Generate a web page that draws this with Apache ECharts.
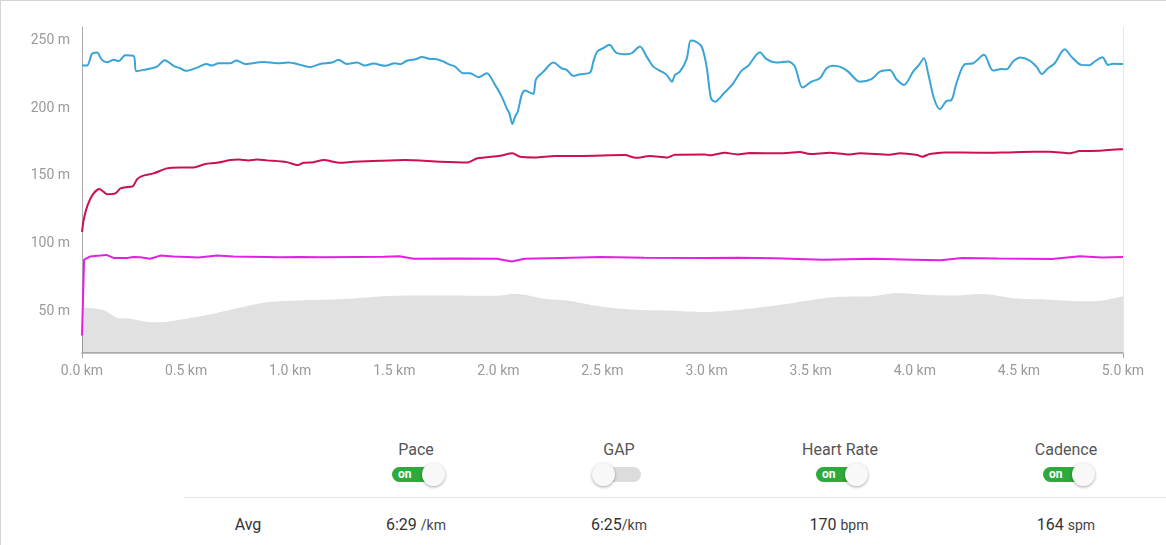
<!DOCTYPE html>
<html>
<head>
<meta charset="utf-8">
<script src="https://cdn.jsdelivr.net/npm/echarts@6/dist/echarts.min.js"></script>
<style>
  html, body { margin:0; padding:0; background:#fff; }
  body { width:1166px; height:545px; position:relative; overflow:hidden; font-family: Roboto, "Noto Sans", sans-serif; }
  #frame { position:absolute; left:0; top:0; width:1166px; height:545px; border-top:1px solid #d4d4d4; border-left:1px solid #d4d4d4; box-sizing:border-box; }
  #chart { position:absolute; left:0; top:0; width:1166px; height:400px; }
  .lbl { position:absolute; top:439px; width:160px; margin-left:-80px; text-align:center; font-size:16px; color:#555; line-height:22px; }
  .tg { position:absolute; top:467px; width:48px; height:15px; border-radius:8px; }
  .tg.on { background:#2fa83c; }
  .tg.off { background:#dcdcdc; }
  .tg .txt { position:absolute; left:6px; top:0; font-size:12px; font-weight:bold; color:#fff; line-height:15px; }
  .knob { position:absolute; top:-4px; width:23px; height:23px; border-radius:50%; background:#f8f8f8; box-shadow:0 1px 3px rgba(0,0,0,0.35); }
  .sep { position:absolute; left:184px; right:0; top:497px; height:1px; background:#e6e6e6; }
  .val { position:absolute; top:514px; width:160px; margin-left:-80px; text-align:center; font-size:16px; color:#333; line-height:22px; }
  .val small { font-size:14px; color:#444; }
</style>
</head>
<body>
<div id="frame"></div>
<div id="chart"></div>

<div class="lbl" style="left:416px">Pace</div>
<div class="lbl" style="left:619px">GAP</div>
<div class="lbl" style="left:840px">Heart Rate</div>
<div class="lbl" style="left:1066px">Cadence</div>

<div class="tg on" style="left:392px"><span class="txt">on</span><div class="knob" style="left:30px"></div></div>
<div class="tg off" style="left:593px"><div class="knob" style="left:-1px"></div></div>
<div class="tg on" style="left:816px"><span class="txt">on</span><div class="knob" style="left:29px"></div></div>
<div class="tg on" style="left:1043px"><span class="txt">on</span><div class="knob" style="left:29px"></div></div>

<div class="sep"></div>

<div class="val" style="left:248px">Avg</div>
<div class="val" style="left:416px">6:29 <small>/km</small></div>
<div class="val" style="left:619px">6:25<small>/km</small></div>
<div class="val" style="left:839px">170 <small>bpm</small></div>
<div class="val" style="left:1066px">164 <small>spm</small></div>

<script>
// ---- data (in displayed axis units) ----
const xTicks = [0, 0.5, 1.0, 1.5, 2.0, 2.5, 3.0, 3.5, 4.0, 4.5, 5.0];

const elevKm  = [0, 0.1, 0.166, 0.233, 0.332, 0.4, 0.5, 0.6, 0.73, 0.864, 1.0, 1.26, 1.5, 1.73, 1.99, 2.08, 2.23, 2.33, 2.49, 2.66, 2.82, 2.99, 3.16, 3.32, 3.49, 3.62, 3.79, 3.92, 4.05, 4.19, 4.32, 4.49, 4.65, 4.82, 4.9, 5.0];
const elevVal = [52.7, 51, 45.3, 44.3, 41.8, 42, 44.3, 47, 51.5, 56, 57.6, 58.9, 61.3, 61.5, 61.3, 62.8, 58.9, 57.8, 53.4, 51, 50.4, 49.3, 51, 53.9, 57.8, 60.4, 60.9, 63.3, 62.1, 61.5, 62.6, 59.2, 58.4, 57.2, 57.8, 60.9];

const paceKm  = [0, 0.024, 0.048, 0.072, 0.096, 0.12, 0.152, 0.176, 0.208, 0.248, 0.261, 0.296, 0.36, 0.397, 0.44, 0.472, 0.499, 0.552, 0.597, 0.624, 0.656, 0.712, 0.741, 0.784, 0.872, 0.936, 0.992, 1.048, 1.096, 1.144, 1.2, 1.232, 1.272, 1.32, 1.36, 1.4, 1.456, 1.504, 1.528, 1.56, 1.608, 1.632, 1.672, 1.704, 1.736, 1.76, 1.792, 1.832, 1.864, 1.904, 1.944, 1.984, 2.016, 2.04, 2.053, 2.067, 2.08, 2.093, 2.112, 2.128, 2.152, 2.168, 2.181, 2.216, 2.264, 2.304, 2.328, 2.36, 2.392, 2.44, 2.456, 2.475, 2.504, 2.533, 2.565, 2.616, 2.64, 2.68, 2.712, 2.744, 2.784, 2.808, 2.834, 2.848, 2.872, 2.904, 2.924, 2.944, 2.976, 3.0, 3.021, 3.04, 3.08, 3.128, 3.168, 3.2, 3.256, 3.288, 3.336, 3.392, 3.424, 3.461, 3.504, 3.544, 3.576, 3.608, 3.648, 3.68, 3.736, 3.792, 3.832, 3.88, 3.912, 3.948, 3.992, 4.02, 4.044, 4.064, 4.092, 4.12, 4.152, 4.176, 4.2, 4.24, 4.28, 4.332, 4.376, 4.416, 4.44, 4.472, 4.507, 4.552, 4.584, 4.611, 4.64, 4.672, 4.72, 4.752, 4.8, 4.84, 4.864, 4.901, 4.928, 4.952, 5.0];
const paceVal = [231.5, 231.5, 240.1, 241.1, 235.7, 234, 235.7, 234.8, 239.2, 238.7, 227.3, 228.3, 230.7, 235.5, 231.3, 229.5, 227.6, 230, 232.7, 231.5, 233.2, 233.2, 235.2, 232.7, 234.2, 233.2, 233.7, 232, 230.3, 232.7, 233.7, 235.7, 232.7, 233.7, 231.5, 233, 231.3, 233.2, 232.5, 235, 236.4, 237.9, 236.4, 236.2, 234.5, 232.5, 230.7, 225.8, 225.8, 222.9, 225.8, 217.2, 208.5, 199.9, 196.2, 188.3, 193.7, 197.4, 209.8, 213, 211.5, 210.5, 221.4, 227, 233.7, 229.5, 228.3, 223.9, 225.1, 226.3, 234.4, 241.9, 244.4, 246.8, 241.1, 239.9, 240.6, 245.6, 238.1, 230.7, 227, 224.6, 219.6, 224.6, 227, 236.2, 250, 249.5, 245.6, 230.7, 207.3, 204.8, 210.5, 218.4, 227.8, 231.3, 241.4, 236.2, 233.7, 234.5, 230.7, 215.2, 219.6, 222.1, 229.5, 231.3, 230.2, 227, 219.6, 221.4, 227, 228.3, 221.4, 217.2, 227, 232, 236.9, 225.8, 207.3, 199.2, 205.3, 206, 218.4, 232.5, 233.2, 239.4, 227.8, 228.9, 228.7, 234.5, 237.4, 235.2, 230.7, 225.3, 229.5, 233.2, 243.6, 238.1, 232, 231.8, 234.5, 237.7, 232, 232.9, 232.7];

const hrKm  = [0, 0.008, 0.027, 0.053, 0.083, 0.104, 0.12, 0.16, 0.184, 0.208, 0.245, 0.264, 0.288, 0.344, 0.408, 0.472, 0.536, 0.592, 0.648, 0.712, 0.752, 0.8, 0.84, 0.888, 0.984, 1.037, 1.064, 1.112, 1.16, 1.24, 1.304, 1.432, 1.552, 1.72, 1.852, 1.9, 2.008, 2.068, 2.104, 2.176, 2.272, 2.392, 2.608, 2.66, 2.728, 2.812, 2.848, 2.992, 3.016, 3.088, 3.148, 3.208, 3.352, 3.448, 3.496, 3.592, 3.676, 3.736, 3.88, 3.928, 4.012, 4.036, 4.072, 4.144, 4.312, 4.432, 4.576, 4.648, 4.744, 4.792, 4.888, 4.984, 5.0];
const hrVal = [108.5, 117.3, 128.3, 136.4, 140.2, 138.1, 136.4, 137, 140.6, 141.5, 142.4, 147.3, 149.8, 151.8, 155.5, 156.2, 156.2, 158.7, 159.6, 161.6, 162.1, 161.4, 162.1, 161.4, 160.1, 157.9, 159.6, 160.1, 161.6, 159.6, 160.3, 161.1, 161.6, 160.4, 159.9, 162.9, 164.8, 166.6, 164.1, 163.6, 164.6, 164.6, 165.3, 163.3, 164.6, 163.6, 165.6, 165.8, 165.1, 167, 165.8, 166.8, 166.6, 167.6, 166.1, 167, 165.8, 166.6, 165.6, 166.6, 165.3, 164.1, 166.1, 167.3, 167, 167.3, 167.8, 167.8, 166.6, 168.3, 168.5, 169.6, 169.6];

const cadKm  = [0, 0.01, 0.04, 0.088, 0.117, 0.152, 0.216, 0.248, 0.28, 0.328, 0.376, 0.44, 0.504, 0.56, 0.648, 0.728, 0.8, 0.888, 0.95, 1.048, 1.15, 1.325, 1.45, 1.525, 1.592, 1.8, 1.992, 2.065, 2.125, 2.3, 2.492, 2.7, 2.992, 3.15, 3.327, 3.56, 3.8, 3.99, 4.125, 4.226, 4.4, 4.658, 4.792, 4.9, 5.0];
const cadVal = [32, 88, 90.4, 91, 91.5, 89.3, 89.3, 90, 89.8, 88.7, 91, 90.4, 90, 89.6, 91, 90.4, 90.2, 90, 89.7, 90, 89.8, 90, 90.1, 90.5, 88.7, 88.9, 88.7, 86.7, 88.7, 89.3, 90, 89.4, 89.2, 89.4, 89, 88, 88.6, 88, 87.5, 89.2, 88.8, 88.5, 90.5, 89.6, 90];

const yMin = 19, yMax = 260;

// ---- build ----
const zip = (a, b) => a.map((v, i) => [v, b[i]]);
const chart = echarts.init(document.getElementById('chart'), null, { renderer: 'canvas' });
const axisGrey = '#aaaaaa';
const labelGrey = '#9a9a9a';
chart.setOption({
  animation: false,
  backgroundColor: 'transparent',
  grid: { left: 82, top: 27, width: 1041, height: 326, containLabel: false },
  xAxis: {
    type: 'value', min: xTicks[0], max: xTicks[xTicks.length - 1], interval: 0.5,
    axisLine: { show: true, lineStyle: { color: axisGrey, width: 1.5 } },
    axisTick: { show: true, customValues: [xTicks[0], xTicks[xTicks.length - 1]], length: 5, lineStyle: { color: axisGrey } },
    axisLabel: { color: labelGrey, fontSize: 14, fontFamily: 'Roboto', margin: 11, formatter: v => v.toFixed(1) + ' km' },
    splitLine: { show: true, lineStyle: { color: '#e6e6e6', width: 1 } }
  },
  yAxis: {
    type: 'value', min: yMin, max: yMax, splitNumber: 5,
    axisLine: { show: true, lineStyle: { color: axisGrey, width: 1 } },
    axisTick: { show: true, customValues: [yMin, yMax], length: 6, lineStyle: { color: axisGrey } },
    axisLabel: { color: labelGrey, fontSize: 14, fontFamily: 'Roboto', margin: 12, formatter: '{value} m', showMinLabel: false, showMaxLabel: false },
    splitLine: { show: true, showMinLine: false, showMaxLine: false, lineStyle: { color: '#e6e6e6', width: 1 } }
  },
  series: [
    { name: 'Elevation', type: 'line', data: zip(elevKm, elevVal), smooth: 0.3, symbol: 'none',
      lineStyle: { width: 0 }, areaStyle: { color: 'rgba(0,0,0,0.17)', origin: 'start' }, z: 3 },
    { name: 'Cadence', type: 'line', data: zip(cadKm, cadVal), symbol: 'none', smooth: false,
      lineStyle: { color: '#e31fe3', width: 2 }, z: 4 },
    { name: 'Heart Rate', type: 'line', data: zip(hrKm, hrVal), symbol: 'none', smooth: 0.25,
      lineStyle: { color: '#cc1050', width: 2 }, z: 5 },
    { name: 'Pace', type: 'line', data: zip(paceKm, paceVal), symbol: 'none', smooth: 0.3,
      lineStyle: { color: '#3aa4d6', width: 2 }, z: 6 }
  ]
});
</script>
</body>
</html>
